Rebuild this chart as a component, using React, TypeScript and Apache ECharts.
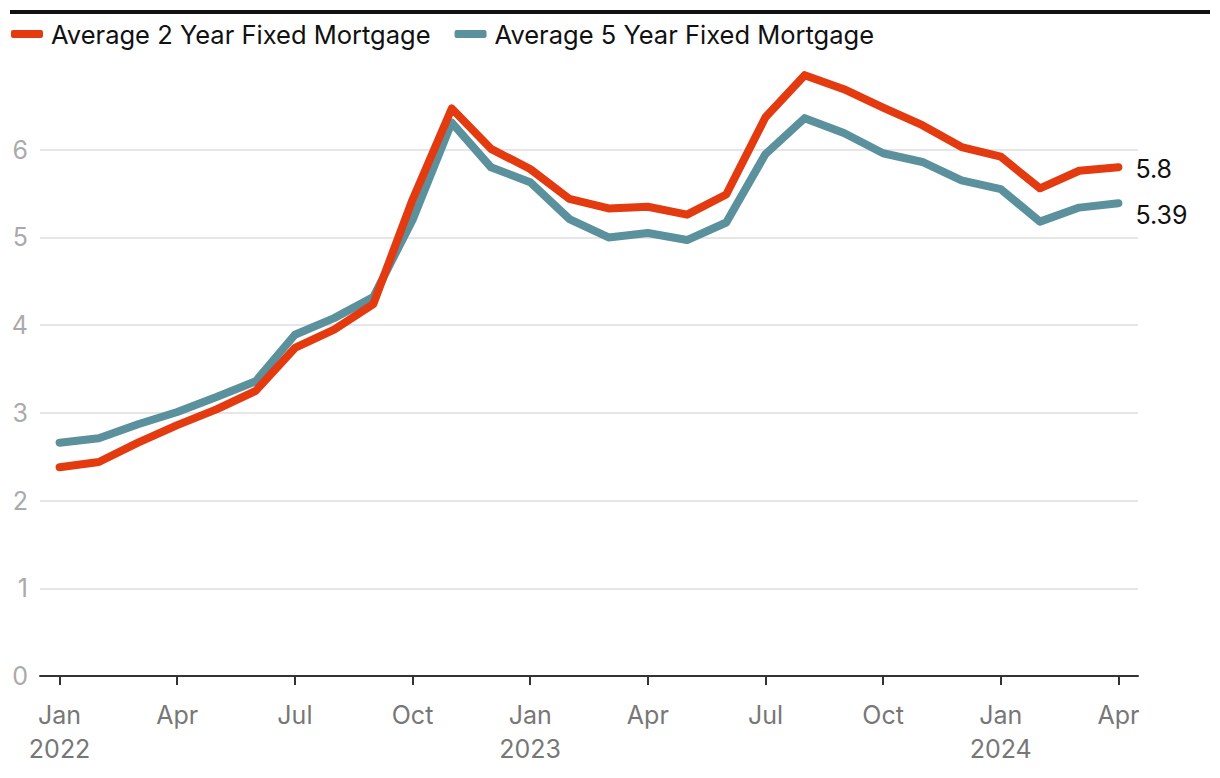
import React, { useEffect, useRef } from "react";
import * as echarts from "echarts";

const months = [
  "Jan\n2022", "Feb", "Mar", "Apr", "May", "Jun", "Jul", "Aug", "Sep", "Oct", "Nov", "Dec",
  "Jan\n2023", "Feb", "Mar", "Apr", "May", "Jun", "Jul", "Aug", "Sep", "Oct", "Nov", "Dec",
  "Jan\n2024", "Feb", "Mar", "Apr",
];

const twoYear = [
  2.38, 2.44, 2.66, 2.86, 3.04, 3.25, 3.74, 3.95, 4.24, 5.43, 6.47, 6.01,
  5.78, 5.44, 5.33, 5.35, 5.26, 5.49, 6.37, 6.85, 6.69, 6.48, 6.28, 6.03,
  5.92, 5.56, 5.76, 5.8,
];

const fiveYear = [
  2.66, 2.71, 2.87, 3.01, 3.18, 3.36, 3.89, 4.08, 4.32, 5.2, 6.31, 5.8,
  5.63, 5.21, 5.0, 5.05, 4.97, 5.17, 5.95, 6.36, 6.19, 5.96, 5.86, 5.65,
  5.55, 5.18, 5.34, 5.39,
];

const gridValues = [1, 2, 3, 4, 5, 6];

const RED = "#e33a10";
const TEAL = "#5b909d";
const FONT = "Inter, 'Noto Sans', sans-serif";

export default function App() {
  const ref = useRef<HTMLDivElement>(null);

  useEffect(() => {
    if (!ref.current) return;
    const chart = echarts.init(ref.current, null, { renderer: "svg" });
    const endLabel = (dy: number) => ({
      show: true,
      formatter: (p: any) => String(p.value),
      color: "#111",
      fontSize: 25,
      fontFamily: FONT,
      distance: 17,
      offset: [0, dy],
    });
    chart.setOption({
      animation: false,
      textStyle: { fontFamily: FONT },
      graphic: [
        { type: "rect", shape: { x: 10, y: 10, width: 1200, height: 4 }, style: { fill: "#111" } },
      ],
      legend: {
        left: 6,
        top: 16,
        icon: "roundRect",
        itemWidth: 32,
        itemHeight: 8,
        itemGap: 24,
        textStyle: { fontSize: 25.5, color: "#111", fontFamily: FONT, padding: [0, 0, 0, 3] },
        data: ["Average 2 Year Fixed Mortgage", "Average 5 Year Fixed Mortgage"],
      },
      grid: { left: 40, right: 82, top: 62, bottom: 102, containLabel: false },
      xAxis: {
        type: "category",
        data: months,
        boundaryGap: true,
        axisLine: { show: true, lineStyle: { color: "#333", width: 2 } },
        axisTick: {
          show: true,
          alignWithLabel: true,
          interval: 2,
          length: 9,
          lineStyle: { color: "#333", width: 2 },
        },
        axisLabel: {
          interval: 2,
          color: "#777",
          fontSize: 25,
          lineHeight: 34,
          margin: 22,
          fontFamily: FONT,
        },
        splitLine: { show: false },
      },
      yAxis: {
        type: "value",
        min: 0,
        max: 7,
        interval: 1,
        axisLine: { show: false },
        axisTick: { show: false },
        splitLine: { show: false },
        axisLabel: {
          color: "#aaa",
          fontSize: 25,
          margin: 12,
          fontFamily: FONT,
          formatter: (v: number) => (v === 7 ? "" : String(v)),
        },
      },
      series: [
        {
          name: "Average 5 Year Fixed Mortgage",
          type: "line",
          data: fiveYear,
          showSymbol: false,
          symbol: "none",
          lineStyle: { color: TEAL, width: 8, cap: "round", join: "round" },
          itemStyle: { color: TEAL },
          endLabel: endLabel(12),
          z: 3,
          markLine: {
            silent: true,
            symbol: "none",
            label: { show: false },
            lineStyle: { color: "#e6e6e6", width: 2, type: "solid" },
            data: gridValues.map((v) => ({ yAxis: v })),
            z: 1,
          },
        },
        {
          name: "Average 2 Year Fixed Mortgage",
          type: "line",
          data: twoYear,
          showSymbol: false,
          symbol: "none",
          lineStyle: { color: RED, width: 8, cap: "round", join: "round" },
          itemStyle: { color: RED },
          endLabel: endLabel(2),
          z: 4,
        },
      ],
    });
    return () => chart.dispose();
  }, []);

  return (
    <div
      ref={ref}
      style={{ position: "fixed", left: 0, top: 0, width: 1220, height: 778, background: "#fff" }}
    />
  );
}
